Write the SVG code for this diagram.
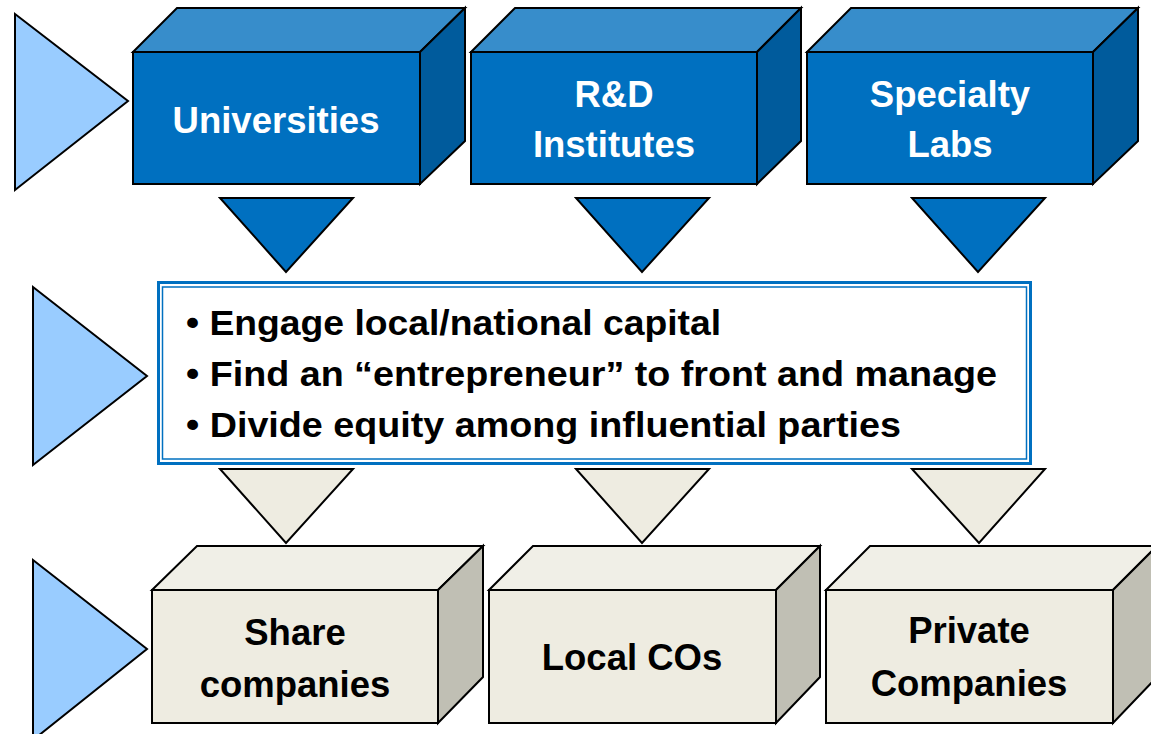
<svg xmlns="http://www.w3.org/2000/svg" width="1151" height="734" viewBox="0 0 1151 734">
  <style>
    .edge { stroke: #000; stroke-width: 2; stroke-linejoin: miter; }
    .pointer { fill: #99CCFF; }
    .blue-front { fill: #0070C0; }
    .blue-top { fill: #378DCB; }
    .blue-side { fill: #005B9C; }
    .tan-front { fill: #EEECE1; }
    .tan-top { fill: #F0EFE7; }
    .tan-side { fill: #C0BFB4; }
    .label { font-family: "Liberation Sans", Arial, sans-serif; font-weight: bold; font-size: 36.5px; text-anchor: middle; }
    .light { fill: #FFFFFF; }
    .dark { fill: #000000; }
    .bullet { font-family: "Liberation Sans", Arial, sans-serif; font-weight: bold; font-size: 35px; fill: #000; }
  </style>

  <!-- Row pointers on the left -->
  <g id="row-pointers">
    <polygon class="pointer edge" points="15,14 128,101 15,190"/>
    <polygon class="pointer edge" points="33,287 147,376 33,465"/>
    <polygon class="pointer edge" points="33,560 147,649 33,740"/>
  </g>

  <!-- Connectors: downward arrows between tiers -->
  <g id="connectors">
    <polygon class="blue-front edge" points="220,198 353,198 286,272"/>
    <polygon class="blue-front edge" points="576,198 709,198 642,272"/>
    <polygon class="blue-front edge" points="912,198 1045,198 978,272"/>
    <polygon class="tan-front edge" points="220,469 353,469 286,543"/>
    <polygon class="tan-front edge" points="576,469 709,469 642,543"/>
    <polygon class="tan-front edge" points="912,469 1045,469 979,543"/>
  </g>

  <!-- Top tier: sources -->
  <g id="universities">
    <polygon class="blue-top edge" points="133,52 177,8 465,8 420,52"/>
    <polygon class="blue-side edge" points="420,52 465,8 465,141 420,184"/>
    <rect class="blue-front edge" x="133" y="52" width="287" height="132"/>
    <text class="label light" x="276" y="133">Universities</text>
  </g>

  <g id="rd-institutes">
    <polygon class="blue-top edge" points="471,52 515,8 801,8 757,52"/>
    <polygon class="blue-side edge" points="757,52 801,8 801,141 757,184"/>
    <rect class="blue-front edge" x="471" y="52" width="286" height="132"/>
    <text class="label light" x="614" y="107">R&amp;D</text>
    <text class="label light" x="614" y="157">Institutes</text>
  </g>

  <g id="specialty-labs">
    <polygon class="blue-top edge" points="807,52 851,8 1138,8 1093,52"/>
    <polygon class="blue-side edge" points="1093,52 1138,8 1138,141 1093,184"/>
    <rect class="blue-front edge" x="807" y="52" width="286" height="132"/>
    <text class="label light" x="950" y="107">Specialty</text>
    <text class="label light" x="950" y="157">Labs</text>
  </g>

  <!-- Middle tier: commercialisation steps -->
  <g id="steps">
    <rect x="158.5" y="282.5" width="872" height="181" fill="#FFFFFF" stroke="#0070C0" stroke-width="3"/>
    <rect x="162.5" y="287" width="864" height="172" fill="none" stroke="#0070C0" stroke-width="1.5"/>
    <text class="bullet" x="186" y="335" textLength="535" lengthAdjust="spacingAndGlyphs">• Engage local/national capital</text>
    <text class="bullet" x="186" y="386" textLength="811" lengthAdjust="spacingAndGlyphs">• Find an “entrepreneur” to front and manage</text>
    <text class="bullet" x="186" y="437" textLength="715" lengthAdjust="spacingAndGlyphs">• Divide equity among influential parties</text>
  </g>

  <!-- Bottom tier: resulting companies -->
  <g id="share-companies">
    <polygon class="tan-top edge" points="152,590 197,546 483,546 438,590"/>
    <polygon class="tan-side edge" points="438,590 483,546 483,677 438,723"/>
    <rect class="tan-front edge" x="152" y="590" width="286" height="133"/>
    <text class="label dark" x="295" y="645">Share</text>
    <text class="label dark" x="295" y="697">companies</text>
  </g>

  <g id="local-cos">
    <polygon class="tan-top edge" points="489,590 533,546 820,546 776,590"/>
    <polygon class="tan-side edge" points="776,590 820,546 820,677 776,723"/>
    <rect class="tan-front edge" x="489" y="590" width="287" height="133"/>
    <text class="label dark" x="632" y="670">Local COs</text>
  </g>

  <g id="private-companies">
    <polygon class="tan-top edge" points="826,590 870,546 1157,546 1113,590"/>
    <polygon class="tan-side edge" points="1113,590 1157,546 1157,677 1113,723"/>
    <rect class="tan-front edge" x="826" y="590" width="287" height="133"/>
    <text class="label dark" x="969" y="643">Private</text>
    <text class="label dark" x="969" y="696">Companies</text>
  </g>
</svg>
